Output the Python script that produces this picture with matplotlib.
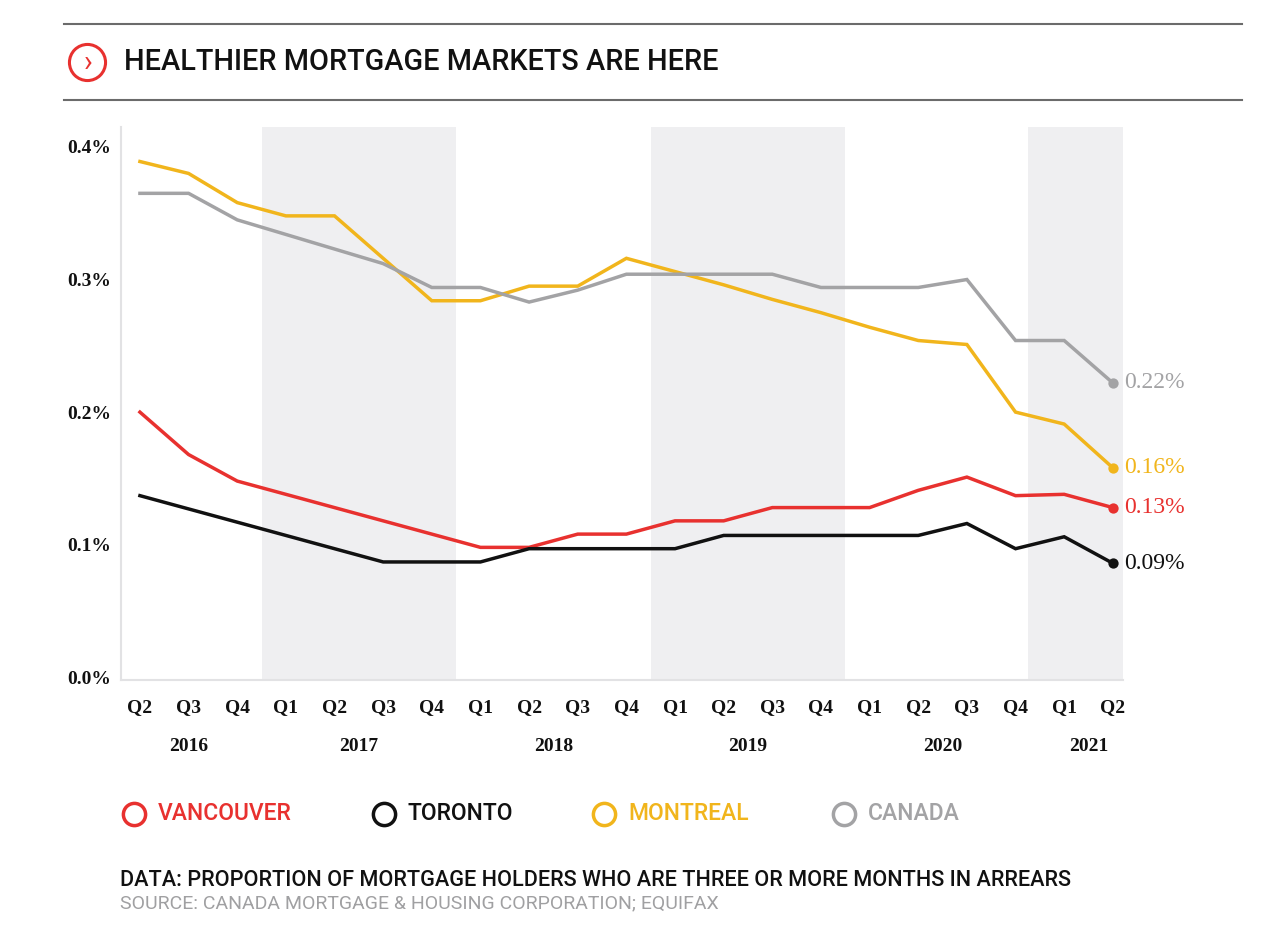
import matplotlib
matplotlib.use('Agg')
import matplotlib.pyplot as plt
from matplotlib.lines import Line2D
import numpy as np

# datos (% de hipotecas con 3+ meses de atraso)
trimestres = ['Q2', 'Q3', 'Q4',
              'Q1', 'Q2', 'Q3', 'Q4',
              'Q1', 'Q2', 'Q3', 'Q4',
              'Q1', 'Q2', 'Q3', 'Q4',
              'Q1', 'Q2', 'Q3', 'Q4',
              'Q1', 'Q2']
anios = ['2016', '2017', '2018', '2019', '2020', '2021']
anio_indices = [[0, 1, 2], [3, 4, 5, 6], [7, 8, 9, 10], [11, 12, 13, 14],
                [15, 16, 17, 18], [19, 20]]
anios_sombreados = ['2017', '2019', '2021']

vancouver = [0.200, 0.168, 0.148, 0.138, 0.128, 0.118, 0.108, 0.098, 0.098, 0.108, 0.108,
             0.118, 0.118, 0.128, 0.128, 0.128, 0.141, 0.151, 0.137, 0.138, 0.128]
toronto = [0.137, 0.127, 0.117, 0.107, 0.097, 0.087, 0.087, 0.087, 0.097, 0.097, 0.097,
           0.097, 0.107, 0.107, 0.107, 0.107, 0.107, 0.116, 0.097, 0.106, 0.086]
montreal = [0.389, 0.380, 0.358, 0.348, 0.348, 0.316, 0.284, 0.284, 0.295, 0.295, 0.316,
            0.306, 0.296, 0.285, 0.275, 0.264, 0.254, 0.251, 0.200, 0.191, 0.158]
canada = [0.365, 0.365, 0.345, 0.334, 0.323, 0.312, 0.294, 0.294, 0.283, 0.292, 0.304,
          0.304, 0.304, 0.304, 0.294, 0.294, 0.294, 0.300, 0.254, 0.254, 0.222]

etiquetas_finales = ['0.13%', '0.09%', '0.16%', '0.22%']
nombres = ['VANCOUVER', 'TORONTO', 'MONTREAL', 'CANADA']
colores = ['#e8312f', '#111111', '#f1b51c', '#a3a3a5']

SERIF = ['Liberation Serif', 'DejaVu Serif']
SANS = ['Roboto', 'DejaVu Sans']

fig = plt.figure(figsize=(12.8, 9.41), dpi=100)
ax = fig.add_axes([0.0945, 0.2774, 0.7825, 0.5876])

x = np.arange(len(trimestres))

# bandas grises de los anios alternos
for anio, idx in zip(anios, anio_indices):
    if anio in anios_sombreados:
        inicio = idx[0] - 0.5 if idx[0] < 19 else idx[0] - 0.75
        ax.axvspan(inicio, idx[-1] + 0.5, color='#efeff1', zorder=0, lw=0)

series = [vancouver, toronto, montreal, canada]
for datos, color, etiqueta in zip(series, colores, etiquetas_finales):
    ax.plot(x, datos, color=color, lw=2.5, zorder=3, solid_joinstyle='miter')
    ax.scatter(x[-1], datos[-1], s=55, color=color, zorder=4, lw=0)
    ax.annotate(etiqueta, (x[-1], datos[-1]), xytext=(8, 0), textcoords='offset points',
                va='center', ha='left', color=color, fontsize=17, family=SERIF,
                annotation_clip=False)

ax.set_xlim(-0.39, 20.2)
ax.set_ylim(-0.002, 0.415)

ax.set_yticks([0.0, 0.1, 0.2, 0.3, 0.4])
ax.set_yticklabels(['0.0%', '0.1%', '0.2%', '0.3%', '0.4%'], family=SERIF,
                   fontsize=14, fontweight='bold', color='#111111')
ax.set_xticks(x)
ax.set_xticklabels(trimestres, family=SERIF, fontsize=14, fontweight='bold', color='#111111')
ax.tick_params(axis='both', length=0)
ax.tick_params(axis='x', pad=14)
ax.tick_params(axis='y', pad=7)

for lado in ['top', 'right']:
    ax.spines[lado].set_visible(False)
for lado in ['left', 'bottom']:
    ax.spines[lado].set_color('#e2e2e4')
    ax.spines[lado].set_linewidth(1.5)

# etiquetas de anio
for anio, idx in zip(anios, anio_indices):
    ax.text(np.mean(idx), -0.12, anio, transform=ax.get_xaxis_transform(),
            ha='center', va='center', fontsize=14, fontweight='bold', family=SERIF,
            color='#111111')

# lineas de cabecera
fig.add_artist(Line2D([0.05, 0.97], [1 - 24 / 941] * 2, color='#6b6b6b', lw=1.5))
fig.add_artist(Line2D([0.05, 0.97], [1 - 100 / 941] * 2, color='#6b6b6b', lw=1.5))

# icono y titulo
fig.add_artist(Line2D([87 / 1280], [1 - 62 / 941], marker='o', markersize=26,
                      markerfacecolor='none', markeredgecolor='#e8312f', markeredgewidth=2.2))
fig.text(88 / 1280, 1 - 63 / 941, '\u203a', ha='center', va='center', fontsize=21,
         color='#e8312f', family=SANS)
fig.text(124 / 1280, 1 - 62 / 941, 'HEALTHIER MORTGAGE MARKETS ARE HERE', ha='left',
         va='center', fontsize=20.8, family=SANS, fontweight='medium', color='#111111')

# leyenda
pos_circulo = [134, 384, 604, 844]
for nombre, color, px in zip(nombres, colores, pos_circulo):
    fig.add_artist(Line2D([px / 1280], [1 - 814 / 941], marker='o', markersize=16,
                          markerfacecolor='none', markeredgecolor=color, markeredgewidth=2.5))
    fig.text((px + 24) / 1280, 1 - 814 / 941, nombre, ha='left', va='center', fontsize=16.5,
             family=SANS, fontweight='medium', color=color)

# pie
fig.text(120 / 1280, 1 - 880 / 941,
         'DATA: PROPORTION OF MORTGAGE HOLDERS WHO ARE THREE OR MORE MONTHS IN ARREARS',
         ha='left', va='center', fontsize=15.6, family=SANS, fontweight='medium',
         color='#111111')
fig.text(120 / 1280, 1 - 903 / 941, 'SOURCE: CANADA MORTGAGE & HOUSING CORPORATION; EQUIFAX',
         ha='left', va='center', fontsize=14, family=SANS, color='#a0a0a2')

fig.savefig('out.png', dpi=100)
